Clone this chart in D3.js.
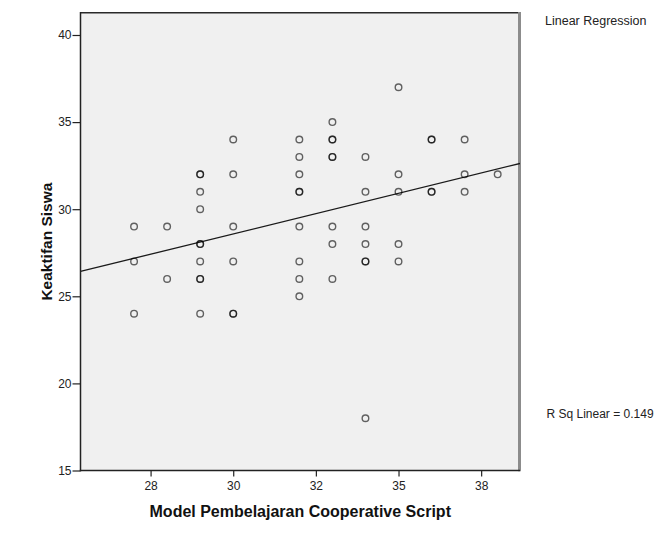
<!DOCTYPE html>
<html>
<head>
<meta charset="utf-8">
<script src="https://cdn.jsdelivr.net/npm/d3@7"></script>
<style>
  html, body { margin: 0; padding: 0; background: #fff; }
  svg { display: block; }
  text { font-family: "Liberation Sans", Arial, sans-serif; }
</style>
</head>
<body>
<svg id="chart" width="656" height="535"></svg>
<script>
// ---- data ----
const xValues = [
  27, 27, 27,
  28, 28,
  29, 29, 29, 29, 29, 29, 29, 29, 29, 29,
  30, 30, 30, 30, 30, 30,
  32, 32, 32, 32, 32, 32, 32, 32, 32,
  33, 33, 33, 33, 33, 33, 33, 33,
  34, 34, 34, 34, 34, 34, 34,
  35, 35, 35, 35, 35,
  36, 36, 36, 36,
  37, 37, 37,
  38
];
const yValues = [
  29, 27, 24,
  29, 26,
  32, 32, 31, 30, 28, 28, 27, 26, 26, 24,
  34, 32, 29, 27, 24, 24,
  34, 33, 32, 31, 31, 29, 27, 26, 25,
  35, 34, 34, 33, 33, 29, 28, 26,
  33, 31, 29, 28, 27, 27, 18,
  37, 32, 31, 28, 27,
  34, 34, 31, 31,
  34, 32, 31,
  32
];
const xTickValues = [27.5, 30, 32.5, 35, 37.5];
const xTickLabels = ["28", "30", "32", "35", "38"];
const yTickValues = [15, 20, 25, 30, 35, 40];
const xTitle = "Model Pembelajaran Cooperative Script";
const yTitle = "Keaktifan Siswa";
const fitLegend = "Linear Regression";
const rSquaredText = "R Sq Linear = 0.149";

// ---- layout ----
const svg = d3.select("#chart");
const L = 80.5, R = 520, T = 12.7, B = 470.5;

const x = d3.scaleLinear().domain([25.38, 38.675]).range([L, R]);
const y = d3.scaleLinear().domain([15, 41.28]).range([B, T]);

// plot background
svg.append("rect")
  .attr("x", L).attr("y", T)
  .attr("width", R - L).attr("height", B - T)
  .attr("fill", "#f0f0f0");

// frame: top (dark) and right (grey, thick)
svg.append("line")
  .attr("x1", L).attr("x2", R).attr("y1", T).attr("y2", T)
  .attr("stroke", "#2a2a2a").attr("stroke-width", 1.5);
svg.append("line")
  .attr("x1", R - 0.5).attr("x2", R - 0.5).attr("y1", T - 0.7).attr("y2", B + 0.7)
  .attr("stroke", "#8c8c8c").attr("stroke-width", 3);

// clip for the regression line
svg.append("clipPath").attr("id", "plotclip")
  .append("rect").attr("x", L).attr("y", T).attr("width", R - L).attr("height", B - T);

// regression fit computed from the data
const n = xValues.length;
const mx = d3.mean(xValues), my = d3.mean(yValues);
let sxy = 0, sxx = 0;
for (let i = 0; i < n; i++) {
  sxy += (xValues[i] - mx) * (yValues[i] - my);
  sxx += (xValues[i] - mx) * (xValues[i] - mx);
}
const slope = sxy / sxx, intercept = my - slope * mx;
const [dx0, dx1] = x.domain();
svg.append("line")
  .attr("clip-path", "url(#plotclip)")
  .attr("x1", x(dx0)).attr("y1", y(intercept + slope * dx0))
  .attr("x2", x(dx1)).attr("y2", y(intercept + slope * dx1))
  .attr("stroke", "#1a1a1a").attr("stroke-width", 1.3);

// points
svg.append("g").selectAll("circle")
  .data(xValues.map((v, i) => [v, yValues[i]]))
  .join("circle")
  .attr("cx", d => x(d[0]))
  .attr("cy", d => y(d[1]))
  .attr("r", 3.3)
  .attr("fill", "none")
  .attr("stroke", "#000")
  .attr("stroke-opacity", 0.6)
  .attr("stroke-width", 1.4);

// axes
const yAxis = svg.append("g")
  .attr("transform", `translate(${L},0)`)
  .call(d3.axisLeft(y).tickValues(yTickValues).tickSize(8).tickPadding(1).tickSizeOuter(0));
const xAxis = svg.append("g")
  .attr("transform", `translate(0,${B})`)
  .call(d3.axisBottom(x).tickValues(xTickValues)
    .tickFormat((d, i) => xTickLabels[i]).tickSize(6).tickPadding(5).tickSizeOuter(0));

[yAxis, xAxis].forEach(g => {
  g.select(".domain").attr("stroke", "#222").attr("stroke-width", 1.5);
  g.selectAll(".tick line").attr("stroke", "#222").attr("stroke-width", 1.2);
  g.selectAll(".tick text").attr("fill", "#222")
    .style("font-family", "'Liberation Sans', Arial, sans-serif").style("font-size", "12px");
});
// extend domains to meet the corner cleanly
yAxis.select(".domain").attr("d", `M0,${T - 0.7}V${B + 0.7}`);
xAxis.select(".domain").attr("d", `M${L - 0.7},0H${R}`);

// titles
svg.append("text")
  .attr("x", (L + R) / 2).attr("y", 516.5)
  .attr("text-anchor", "middle")
  .style("font-size", "16px").style("font-weight", "bold").attr("fill", "#111")
  .text(xTitle);
svg.append("text")
  .attr("transform", `translate(52,${(T + B) / 2}) rotate(-90)`)
  .attr("text-anchor", "middle")
  .style("font-size", "15.5px").style("font-weight", "bold").attr("fill", "#111")
  .text(yTitle);

// annotations
svg.append("text")
  .attr("x", 545).attr("y", 25)
  .style("font-size", "12.5px").attr("fill", "#222")
  .text(fitLegend);
svg.append("text")
  .attr("x", 546.5).attr("y", 417.5)
  .style("font-size", "12px").attr("fill", "#222")
  .text(rSquaredText);
</script>
</body>
</html>
